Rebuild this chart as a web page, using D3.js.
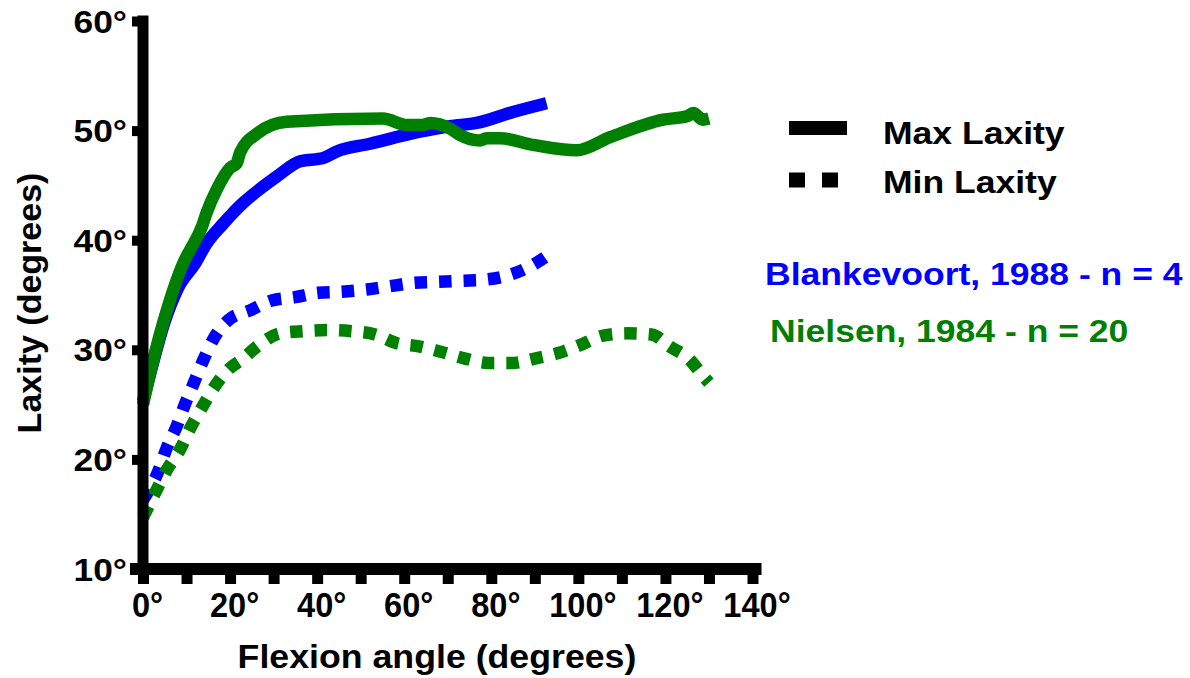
<!DOCTYPE html>
<html>
<head>
<meta charset="utf-8">
<script src="https://cdn.jsdelivr.net/npm/d3@7/dist/d3.min.js"></script>
<style>
body { margin: 0; background: #fff; }
text { font-family: "Liberation Sans", Arial, sans-serif; font-weight: bold; }
</style>
</head>
<body>
<div id="chart"></div>
<script>
// Tick values
var xTicks = [0, 10, 20, 30, 40, 50, 60, 70, 80, 90, 100, 110, 120, 130, 140];
var xLabels = [0, 20, 40, 60, 80, 100, 120, 140];
var yTicks = [10, 20, 30, 40, 50, 60];

// Blankevoort 1988, max laxity
var blankMaxAngle = [0, 1.5, 5, 8, 12, 14.6, 18.4, 23, 27.6, 30.7, 36.1, 41.4, 44.5, 52.1, 63.6, 70.5, 76.6, 85, 92.7];
var blankMaxLaxity = [25.3, 27.6, 32.6, 35.6, 37.9, 39.7, 41.5, 43.4, 44.9, 45.8, 47.2, 47.5, 48.1, 48.8, 49.9, 50.4, 50.7, 51.7, 52.5];

// Blankevoort 1988, min laxity
var blankMinAngle = [0, 3.5, 5.4, 7.7, 9.6, 11.6, 13.9, 16.2, 19.6, 24.6, 29.6, 34.9, 40.3, 45.6, 51.4, 56.7, 62.1, 67.5, 73.2, 78.5, 83.9, 88.9, 94];
var blankMinLaxity = [16.3, 18.9, 21, 23, 25, 26.9, 29.1, 31, 32.7, 33.6, 34.5, 34.8, 35.2, 35.3, 35.5, 35.8, 36.1, 36.2, 36.3, 36.4, 36.8, 37.6, 38.9];

// Nielsen 1984, max laxity
var nielMaxAngle = [0, 2, 5.7, 9.6, 10.8, 13.5, 14.6, 16.9, 20, 21.5, 22.3, 26.1, 33, 55.1, 60.6, 64.3, 65.9, 70.5, 72.8, 77.4, 78.9, 82, 89.6, 99.6, 107.3, 119.5, 124.9, 126.4, 128.6, 130];
var nielMaxLaxity = [25, 28.5, 33.9, 38.2, 39.1, 41.2, 42.5, 44.6, 46.6, 47, 48, 49.7, 50.8, 51.1, 50.5, 50.5, 50.7, 50.2, 49.6, 49.1, 49.3, 49.3, 48.7, 48.2, 49.4, 51, 51.3, 51.6, 51, 51.1];

// Nielsen 1984, min laxity
var nielMinAngle = [0, 3.1, 5.4, 8.5, 10.8, 13.5, 16.2, 19.6, 23, 26.5, 31.5, 36.8, 42.6, 47.9, 53.3, 58.3, 63.6, 68.6, 74, 79.3, 84.7, 90, 95.4, 100.8, 105.7, 111.1, 116.8, 121, 125.3, 129.1, 130];
var nielMinLaxity = [14.7, 17.2, 19, 20.9, 22.8, 24.7, 26.5, 28.2, 29.2, 30.4, 31.5, 31.7, 31.8, 31.7, 31.4, 30.6, 30.3, 29.8, 29.2, 28.8, 28.8, 29.2, 29.7, 30.5, 31.3, 31.5, 31.4, 30.3, 29.2, 27.4, 27];

var width = 1190, height = 678;
var blue = '#0000ff', green = '#008000';

var series = [
    {angle: blankMaxAngle, laxity: blankMaxLaxity, color: blue, dashed: false},
    {angle: nielMaxAngle, laxity: nielMaxLaxity, color: green, dashed: false},
    {angle: blankMinAngle, laxity: blankMinLaxity, color: blue, dashed: true},
    {angle: nielMinAngle, laxity: nielMinLaxity, color: green, dashed: true}
];

var xScale = d3.scaleLinear().domain([0, 140]).range([143, 752.5]);
var yScale = d3.scaleLinear().domain([10, 60]).range([569, 21]);

// stretch text horizontally, the original glyphs are wider than Arial
function stretch(sel, k) {
    sel.each(function() {
        var w = this.getComputedTextLength();
        d3.select(this).attr('textLength', w * k).attr('lengthAdjust', 'spacingAndGlyphs');
    });
}

var svg = d3.select('#chart').append('svg')
    .attr('width', width)
    .attr('height', height);

svg.append('rect').attr('width', width).attr('height', height).attr('fill', '#fff');

// Lines
var line = d3.line()
    .x(function(d) { return xScale(d[0]); })
    .y(function(d) { return yScale(d[1]); })
    .curve(d3.curveMonotoneX);

svg.append('g').attr('class', 'chart-g')
    .selectAll('path')
    .data(series)
    .enter()
    .append('path')
    .attr('d', function(s) { return line(d3.zip(s.angle, s.laxity)); })
    .attr('fill', 'none')
    .attr('stroke', function(s) { return s.color; })
    .attr('stroke-width', 12.5)
    .attr('stroke-linejoin', 'round')
    .attr('stroke-dasharray', function(s) { return s.dashed ? '12.5,12' : null; });

// Y axis
var yAxis = d3.axisLeft(yScale)
    .tickValues(yTicks)
    .tickSize(11)
    .tickSizeOuter(0)
    .tickFormat(function(d) { return d + '°'; });

var yG = svg.append('g')
    .attr('class', 'y-axis')
    .attr('transform', 'translate(' + xScale(0) + ',0)')
    .call(yAxis);
yG.select('.domain').remove();
yG.selectAll('.tick line').attr('stroke', '#000').attr('stroke-width', 10);
yG.append('line')
    .attr('y1', yScale(60))
    .attr('y2', yScale(10))
    .attr('stroke', '#000')
    .attr('stroke-width', 11)
    .attr('stroke-linecap', 'square');
yG.selectAll('.tick text')
    .attr('x', -16)
    .attr('dy', '0.36em')
    .attr('fill', '#000')
    .style('font-size', '31px')
    .call(stretch, 1.14);

// X axis
var xAxis = d3.axisBottom(xScale)
    .tickValues(xTicks)
    .tickSize(15)
    .tickSizeOuter(0)
    .tickFormat(function(d) { return xLabels.indexOf(d) >= 0 ? d + '°' : ''; });

var xG = svg.append('g')
    .attr('class', 'x-axis')
    .attr('transform', 'translate(0,' + yScale(10) + ')')
    .call(xAxis);
xG.select('.domain').remove();
xG.selectAll('.tick line').attr('stroke', '#000').attr('stroke-width', 11);
xG.append('line')
    .attr('x1', xScale(0) - 13)
    .attr('x2', xScale(140) + 9)
    .attr('stroke', '#000')
    .attr('stroke-width', 12);
xG.selectAll('.tick text')
    .attr('y', 48)
    .attr('dy', 0)
    .attr('dx', 4)
    .attr('fill', '#000')
    .style('font-size', '35px')
    .call(stretch, 0.93);

// Axis titles
svg.append('text')
    .attr('x', 437)
    .attr('y', 668)
    .attr('text-anchor', 'middle')
    .style('font-size', '34px')
    .text('Flexion angle (degrees)')
    .call(stretch, 1.05);

svg.append('text')
    .attr('transform', 'translate(41,303) rotate(-90)')
    .attr('text-anchor', 'middle')
    .style('font-size', '34px')
    .text('Laxity (degrees)');

// Legend
var legend = svg.append('g').attr('class', 'legend');
legend.append('line')
    .attr('x1', 789).attr('x2', 847)
    .attr('y1', 128).attr('y2', 128)
    .attr('stroke', '#000').attr('stroke-width', 14);
legend.append('line')
    .attr('x1', 789).attr('x2', 838)
    .attr('y1', 180).attr('y2', 180)
    .attr('stroke', '#000').attr('stroke-width', 15)
    .attr('stroke-dasharray', '16,17');
legend.append('text').attr('x', 883).attr('y', 144)
    .style('font-size', '32px').text('Max Laxity').call(stretch, 1.11);
legend.append('text').attr('x', 883).attr('y', 193)
    .style('font-size', '32px').text('Min Laxity').call(stretch, 1.11);
legend.append('text').attr('x', 765).attr('y', 285)
    .attr('fill', blue)
    .style('font-size', '32px').text('Blankevoort, 1988 - n = 4').call(stretch, 1.11);
legend.append('text').attr('x', 770).attr('y', 342)
    .attr('fill', green)
    .style('font-size', '32px').text('Nielsen, 1984 - n = 20').call(stretch, 1.11);
</script>
</body>
</html>
